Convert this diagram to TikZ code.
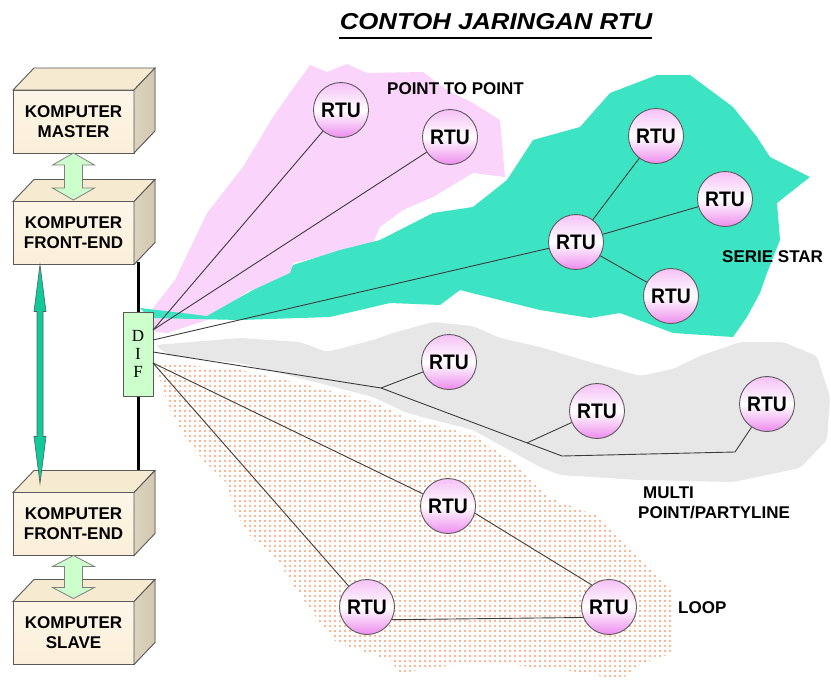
\documentclass[tikz,border=0pt]{standalone}
\usepackage{fontspec}
\setmainfont{Liberation Sans}
\newfontfamily\difserif{Liberation Serif}
\usetikzlibrary{calc,patterns.meta}

\definecolor{creamfront}{HTML}{FBEFD8}
\definecolor{creamtop}{HTML}{F6EAD0}
\definecolor{tanside}{HTML}{D3C8AF}
\definecolor{edgegray}{HTML}{5A5A5A}
\definecolor{palegreen}{HTML}{CCFFCC}
\definecolor{tealgreen}{HTML}{0FCB9A}
\definecolor{pinkcloud}{HTML}{FBD4FB}
\definecolor{tealcloud}{HTML}{3DE4C3}
\definecolor{graycloud}{HTML}{E7E7E7}
\definecolor{dotorange}{HTML}{FF6E22}
\definecolor{rtutop}{HTML}{F6C0F6}
\definecolor{rtubot}{HTML}{EE8CEE}
\definecolor{linkgray}{HTML}{3C3C3C}

% a 3-D computer box: front face node plus top and side faces
\newcommand{\kbox}[4]{%
  \node[kfront] (#1) at (#2,#3) {#4};
  \filldraw[ktop] (#1.north west) -- ++(21,-22) -- ($(#1.north east)+(21,-22)$) -- (#1.north east) -- cycle;
  \filldraw[kside] (#1.north east) -- ++(21,-22) -- ($(#1.south east)+(21,-22)$) -- (#1.south east) -- cycle;
}

\begin{document}
\begin{tikzpicture}[x=1pt,y=-1pt,
  kfront/.style={draw=edgegray, line width=0.9pt, top color=creamfront!60!white, bottom color=creamfront,
    minimum width=121pt, minimum height=63pt, inner sep=0pt, outer sep=0pt,
    align=center, font=\fontsize{17}{20}\selectfont\bfseries},
  ktop/.style={draw=edgegray, line width=0.9pt, fill=creamtop},
  kside/.style={draw=edgegray, line width=0.9pt, left color=tanside!80!white, right color=tanside},
  blockarr/.style={draw=gray, line width=0.8pt, fill=palegreen, line join=miter},
  tealarr/.style={draw=edgegray, line width=0.6pt, fill=tealgreen},
  difbox/.style={draw=edgegray, line width=0.9pt, fill=palegreen, minimum width=30pt, minimum height=84pt,
    inner sep=0pt, outer sep=0pt, align=center, font=\difserif\fontsize{17}{18}\selectfont},
  rtu/.style={circle, draw=edgegray, line width=0.9pt, minimum size=55pt, inner sep=0pt,
    top color=rtutop, bottom color=rtubot, middle color=white,
    font=\fontsize{21}{21}\selectfont\bfseries},
  link/.style={draw=linkgray, line width=0.9pt},
  lbl/.style={inner sep=0pt, font=\fontsize{17}{20}\selectfont\bfseries},
]
\useasboundingbox (0,0) rectangle (831,686);
\fill[white] (0,0) rectangle (831,686);

% ---------- network areas ----------
\fill[pinkcloud] (150,312) -- (175,280) -- (207,213) -- (243,167) -- (273,117) -- (287,97) -- (310,65)
  -- (327,72) -- (347,64) -- (367,73) -- (423,72) -- (447,90) -- (473,103) -- (500,120) -- (505,177)
  -- (473,173) -- (433,197) -- (403,210) -- (380,227) -- (373,243) -- (337,253) -- (293,263)
  -- (287,293) -- (250,290) -- (207,320) -- (167,333) -- (155,332) -- cycle;

\fill[tealcloud] (140,308) -- (207,316) -- (253,290) -- (290,273) -- (293,265) -- (340,250) -- (380,240)
  -- (433,213) -- (473,207) -- (507,180) -- (533,140) -- (580,127) -- (610,93) -- (657,75) -- (690,75)
  -- (733,107) -- (757,137) -- (770,157) -- (810,177) -- (777,203) -- (780,240) -- (767,273) -- (760,293)
  -- (747,317) -- (733,337) -- (673,333) -- (620,313) -- (590,318) -- (540,310) -- (500,300) -- (460,290)
  -- (440,305) -- (390,303) -- (330,317) -- (240,320) -- (150,318) -- cycle;

\fill[graycloud, rounded corners=4pt] (155,345) -- (240,338) -- (300,342) -- (327,352) -- (373,340) -- (393,333)
  -- (433,322) -- (473,326) -- (500,338) -- (540,347) -- (583,360) -- (640,376) -- (673,369) -- (700,356)
  -- (740,342) -- (783,342) -- (817,356) -- (830,397) -- (827,440) -- (800,468) -- (733,482) -- (640,480)
  -- (560,475) -- (540,467) -- (473,430) -- (407,413) -- (373,397) -- (307,380) -- (240,363) -- (170,356) -- cycle;

\fill[pattern={Dots[distance=5pt,radius=0.85pt]}, pattern color=dotorange]
  (155,362) -- (240,370) -- (307,385) -- (373,402) -- (407,418) -- (473,435) -- (513,462) -- (547,497)
  -- (600,517) -- (643,560) -- (673,590) -- (673,653) -- (643,663) -- (620,680) -- (580,672) -- (513,665)
  -- (453,665) -- (400,673) -- (390,660) -- (337,643) -- (320,623) -- (290,580) -- (280,563) -- (247,533)
  -- (233,507) -- (227,483) -- (203,460) -- (187,440) -- (170,410) -- (160,380) -- cycle;

% ---------- bus and DIF ----------
\coordinate (busTop) at (138,262);
\coordinate (busBot) at (138,470);
\draw[line width=3pt] (busTop) -- (busBot);
\node[difbox] (dif) at (138,354) {D\\I\\F};

\coordinate (o1) at ($(dif.north east)+(0,18)$);
\coordinate (o2) at ($(dif.north east)+(0,28)$);
\coordinate (o3) at ($(dif.north east)+(0,40)$);
\coordinate (o4) at ($(dif.north east)+(0,51)$);

% ---------- RTUs ----------
\node[rtu] (p1) at (341,110) {\scalebox{0.92}[1]{RTU}};
\node[rtu] (p2) at (450,137) {\scalebox{0.92}[1]{RTU}};
\node[rtu] (sc) at (576,242) {\scalebox{0.92}[1]{RTU}};
\node[rtu] (st) at (656,136) {\scalebox{0.92}[1]{RTU}};
\node[rtu] (sr) at (725,199) {\scalebox{0.92}[1]{RTU}};
\node[rtu] (sb) at (671,296) {\scalebox{0.92}[1]{RTU}};
\node[rtu] (m1) at (449,362) {\scalebox{0.92}[1]{RTU}};
\node[rtu] (m2) at (597,411) {\scalebox{0.92}[1]{RTU}};
\node[rtu] (m3) at (767,404) {\scalebox{0.92}[1]{RTU}};
\node[rtu] (lt) at (448,506) {\scalebox{0.92}[1]{RTU}};
\node[rtu] (ll) at (367,607) {\scalebox{0.92}[1]{RTU}};
\node[rtu] (lr) at (609,607) {\scalebox{0.92}[1]{RTU}};

% ---------- links ----------
\coordinate (j1) at (381,388);
\coordinate (j2) at (562,456);
\coordinate (j3) at (735,452);
\coordinate (b2) at ($(j1)!0.807!(j2)$);

\draw[link] (o1) -- (p1);
\draw[link] (o1) -- (p2);
\draw[link] (o2) -- (sc);
\draw[link] (sc) -- (st);
\draw[link] (sc) -- (sr);
\draw[link] (sc) -- (sb);
\draw[link] (o3) -- (j1) -- (j2) -- (j3) -- (m3);
\draw[link] (j1) -- (m1);
\draw[link] (b2) -- (m2);
\draw[link] (o4) -- (lt);
\draw[link] (o4) -- (ll);
\draw[link] (lt.-15) -- (lr.128);
\draw[link] (ll.-27) -- (lr.-158);

% ---------- computers ----------
\kbox{master}{73.5}{121.5}{KOMPUTER\\MASTER}
\kbox{fe1}{73.5}{233}{KOMPUTER\\FRONT-END}
\kbox{fe2}{73.5}{524}{KOMPUTER\\FRONT-END}
\kbox{slave}{73.5}{633}{KOMPUTER\\SLAVE}

\draw[blockarr] (master.south) -- ++(21,12) -- ++(-12,0) -- ++(0,23) -- ++(12,0) -- ++(-21,12)
  -- ++(-21,-12) -- ++(12,0) -- ++(0,-23) -- ++(-12,0) -- cycle;
\draw[blockarr] (fe2.south) -- ++(21,11) -- ++(-12,0) -- ++(0,21) -- ++(12,0) -- ++(-21,11)
  -- ++(-21,-11) -- ++(12,0) -- ++(0,-21) -- ++(-12,0) -- cycle;
\draw[tealarr] ($(fe1.south west)+(27,0)$) -- ++(6,47) -- ++(-3,0) -- ++(0,125) -- ++(3,0) -- ++(-6,47)
  -- ++(-6,-47) -- ++(3,0) -- ++(0,-125) -- ++(-3,0) -- cycle;

% ---------- labels ----------
\node[inner sep=0pt, anchor=base, font=\fontsize{23}{23}\selectfont\bfseries\itshape] (title) at (496,29)
  {\scalebox{1.12}[1]{CONTOH JARINGAN RTU}};
\draw[line width=2.4pt] ($(title.base west)+(-1,9)$) -- ($(title.base east)+(0,9)$);

\node[lbl, anchor=base west] (ptp) at (387,94) {POINT TO POINT};
\node[lbl, anchor=base west] (star) at (722,262) {SERIE STAR};
\node[lbl, anchor=base west] (multiA) at (643,498) {MULTI};
\node[lbl, anchor=base west] (multiB) at (638,518) {POINT/PARTYLINE};
\node[lbl, anchor=base west] (loop) at (678,613) {LOOP};
\end{tikzpicture}
\end{document}
